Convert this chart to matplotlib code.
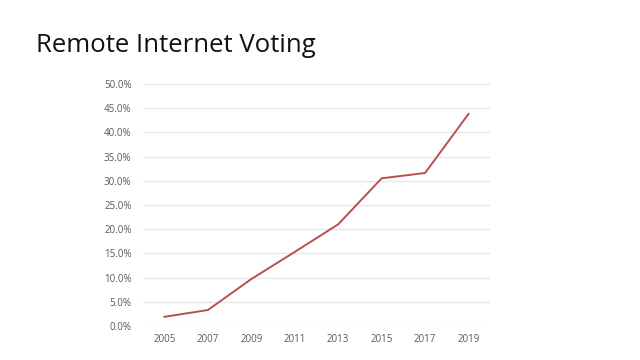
import matplotlib
matplotlib.use("Agg")
import matplotlib.pyplot as plt
from matplotlib.ticker import FuncFormatter, MultipleLocator

years = ["2005", "2007", "2009", "2011", "2013", "2015", "2017", "2019"]
share = [0.019, 0.033, 0.097, 0.153, 0.210, 0.305, 0.316, 0.438]
title = "Remote Internet Voting"

plt.rcParams['font.family'] = ['Open Sans', 'DejaVu Sans']

fig = plt.figure(figsize=(6.4, 3.6), dpi=100)
fig.patch.set_facecolor("white")
fig.text(0.057, 0.873, title, fontsize=18.5, color="#111111", ha="left", va="center")

ax = fig.add_axes([0.223, 0.0944, 0.543, 0.6726])
x = list(range(len(years)))
ax.plot(x, share, color="#B5504E", lw=1.4)
ax.set_xlim(-0.5, len(years) - 0.5)
ax.set_ylim(0, 0.5)
ax.yaxis.set_major_locator(MultipleLocator(0.05))
ax.yaxis.set_major_formatter(FuncFormatter(lambda v, p: f"{v*100:.1f}%"))
ax.set_xticks(x)
ax.set_xticklabels(years)
ax.grid(axis="y", color="#E6E6E6", lw=0.9)
ax.set_axisbelow(True)
for s in ax.spines.values():
    s.set_visible(False)
ax.tick_params(axis="both", length=0, labelsize=7, colors="#595959")
ax.tick_params(axis="y", pad=8)
ax.tick_params(axis="x", pad=6)

fig.savefig("out.png", dpi=100, facecolor="white")
